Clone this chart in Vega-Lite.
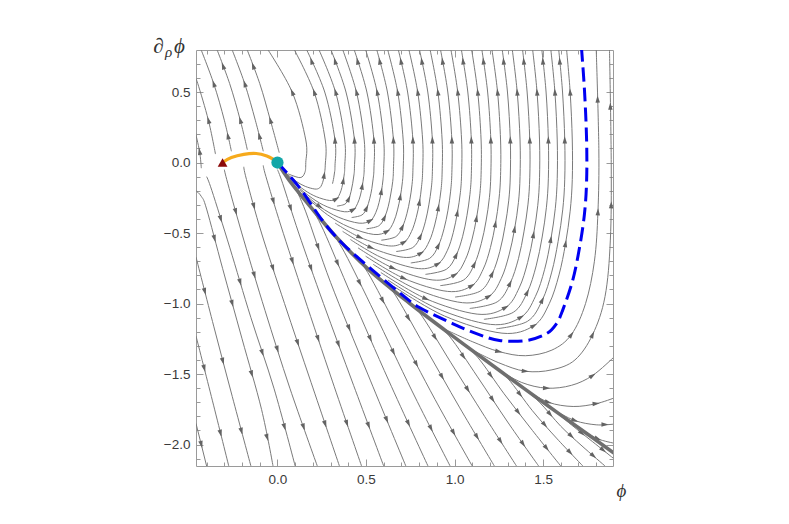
{
"$schema":"https://vega.github.io/schema/vega-lite/v6.json",
"width":417,"height":416,
"autosize":{"type":"none"},
"padding":{"left":196,"top":50,"right":176,"bottom":58},
"background":"white",
"config":{"view":{"stroke":"#9a9a9a","strokeWidth":1},"axis":{"grid":false,"domain":false,"tickColor":"#9a9a9a","tickWidth":1,"labelColor":"#3a3a3a","labelFont":"Liberation Sans","labelFontSize":13.5,"titleFont":"Liberation Serif","titleFontStyle":"italic","titleFontWeight":"normal","titleColor":"#333333","titleAngle":0,"titleAlign":"center","titleBaseline":"middle"}},
"datasets":{
"streams":[
{"g":"FL1","o":1,"x":-0.46,"y":-1.85},{"g":"FL1","o":2,"x":-0.40,"y":-2.152},
{"g":"FL2","o":1,"x":-0.46,"y":-1.23},{"g":"FL2","o":2,"x":-0.367,"y":-1.69},{"g":"FL2","o":3,"x":-0.275,"y":-2.152},
{"g":"FL3","o":1,"x":-0.46,"y":-0.67},{"g":"FL3","o":2,"x":-0.36,"y":-1.16},{"g":"FL3","o":3,"x":-0.255,"y":-1.66},{"g":"FL3","o":4,"x":-0.15,"y":-2.152},
{"g":"FL4","o":1,"x":-0.46,"y":-0.2},{"g":"FL4","o":2,"x":-0.43,"y":-0.24},{"g":"FL4","o":3,"x":-0.40,"y":-0.33},{"g":"FL4","o":4,"x":-0.31,"y":-0.75},{"g":"FL4","o":5,"x":-0.2,"y":-1.25},{"g":"FL4","o":6,"x":-0.09,"y":-1.75},{"g":"FL4","o":7,"x":-0.025,"y":-2.152},
{"g":"FB1","o":1,"x":-0.40,"y":-0.10},{"g":"FB1","o":2,"x":-0.37,"y":-0.2},{"g":"FB1","o":3,"x":-0.27,"y":-0.6},{"g":"FB1","o":4,"x":-0.15,"y":-1.1},{"g":"FB1","o":5,"x":-0.02,"y":-1.6},{"g":"FB1","o":6,"x":0.10,"y":-2.152},
{"g":"FB2","o":1,"x":-0.30,"y":-0.05},{"g":"FB2","o":2,"x":-0.28,"y":-0.15},{"g":"FB2","o":3,"x":-0.19,"y":-0.55},{"g":"FB2","o":4,"x":-0.07,"y":-1.05},{"g":"FB2","o":5,"x":0.07,"y":-1.6},{"g":"FB2","o":6,"x":0.225,"y":-2.152},
{"g":"FB3","o":1,"x":-0.19,"y":-0.03},{"g":"FB3","o":2,"x":-0.175,"y":-0.12},{"g":"FB3","o":3,"x":-0.09,"y":-0.5},{"g":"FB3","o":4,"x":0.04,"y":-1.0},{"g":"FB3","o":5,"x":0.19,"y":-1.56},{"g":"FB3","o":6,"x":0.35,"y":-2.152},
{"g":"FB4","o":1,"x":-0.08,"y":-0.02},{"g":"FB4","o":2,"x":-0.065,"y":-0.10},{"g":"FB4","o":3,"x":0.02,"y":-0.45},{"g":"FB4","o":4,"x":0.15,"y":-0.95},{"g":"FB4","o":5,"x":0.31,"y":-1.55},{"g":"FB4","o":6,"x":0.475,"y":-2.152},
{"g":"FB5","o":1,"x":0.0,"y":-0.05},{"g":"FB5","o":2,"x":0.03,"y":-0.15},{"g":"FB5","o":3,"x":0.12,"y":-0.5},{"g":"FB5","o":4,"x":0.26,"y":-1.0},{"g":"FB5","o":5,"x":0.43,"y":-1.58},{"g":"FB5","o":6,"x":0.60,"y":-2.152},
{"g":"FF1","o":1,"x":0.10,"y":-0.18},{"g":"FF1","o":2,"x":0.16,"y":-0.35},{"g":"FF1","o":3,"x":0.30,"y":-0.85},{"g":"FF1","o":4,"x":0.51,"y":-1.5},{"g":"FF1","o":5,"x":0.725,"y":-2.152},
{"g":"FF2","o":1,"x":0.19,"y":-0.318},{"g":"FF2","o":2,"x":0.26,"y":-0.48},{"g":"FF2","o":3,"x":0.42,"y":-0.95},{"g":"FF2","o":4,"x":0.63,"y":-1.55},{"g":"FF2","o":5,"x":0.85,"y":-2.152},
{"g":"FF3","o":1,"x":0.30,"y":-0.483},{"g":"FF3","o":2,"x":0.38,"y":-0.64},{"g":"FF3","o":3,"x":0.55,"y":-1.07},{"g":"FF3","o":4,"x":0.76,"y":-1.62},{"g":"FF3","o":5,"x":0.975,"y":-2.152},
{"g":"FF4","o":1,"x":0.42,"y":-0.639},{"g":"FF4","o":2,"x":0.51,"y":-0.78},{"g":"FF4","o":3,"x":0.68,"y":-1.18},{"g":"FF4","o":4,"x":0.89,"y":-1.68},{"g":"FF4","o":5,"x":1.10,"y":-2.152},
{"g":"FF5","o":1,"x":0.55,"y":-0.795},{"g":"FF5","o":2,"x":0.65,"y":-0.91},{"g":"FF5","o":3,"x":0.83,"y":-1.3},{"g":"FF5","o":4,"x":1.03,"y":-1.74},{"g":"FF5","o":5,"x":1.225,"y":-2.152},
{"g":"FF6","o":1,"x":0.70,"y":-0.95},{"g":"FF6","o":2,"x":0.80,"y":-1.06},{"g":"FF6","o":3,"x":0.98,"y":-1.42},{"g":"FF6","o":4,"x":1.17,"y":-1.8},{"g":"FF6","o":5,"x":1.35,"y":-2.152},
{"g":"FF7","o":1,"x":0.86,"y":-1.107},{"g":"FF7","o":2,"x":0.97,"y":-1.23},{"g":"FF7","o":3,"x":1.13,"y":-1.52},{"g":"FF7","o":4,"x":1.30,"y":-1.84},{"g":"FF7","o":5,"x":1.475,"y":-2.152},
{"g":"FF8","o":1,"x":1.02,"y":-1.258},{"g":"FF8","o":2,"x":1.13,"y":-1.38},{"g":"FF8","o":3,"x":1.28,"y":-1.64},{"g":"FF8","o":4,"x":1.44,"y":-1.9},{"g":"FF8","o":5,"x":1.60,"y":-2.152},
{"g":"FF9","o":1,"x":1.19,"y":-1.416},{"g":"FF9","o":2,"x":1.30,"y":-1.53},{"g":"FF9","o":3,"x":1.44,"y":-1.76},{"g":"FF9","o":4,"x":1.58,"y":-1.96},{"g":"FF9","o":5,"x":1.725,"y":-2.152},
{"g":"FF10","o":1,"x":1.37,"y":-1.581},{"g":"FF10","o":2,"x":1.48,"y":-1.70},{"g":"FF10","o":3,"x":1.60,"y":-1.87},{"g":"FF10","o":4,"x":1.72,"y":-2.01},{"g":"FF10","o":5,"x":1.85,"y":-2.152},
{"g":"FF11","o":1,"x":1.55,"y":-1.745},{"g":"FF11","o":2,"x":1.66,"y":-1.86},{"g":"FF11","o":3,"x":1.78,"y":-1.98},{"g":"FF11","o":4,"x":1.90,"y":-2.10},
{"g":"T1","o":1,"x":0.01,"y":0.07},{"g":"T1","o":2,"x":-0.04,"y":0.3},{"g":"T1","o":3,"x":-0.10,"y":0.56},{"g":"T1","o":4,"x":-0.175,"y":0.812},
{"g":"T2","o":1,"x":-0.08,"y":0.08},{"g":"T2","o":2,"x":-0.125,"y":0.3},{"g":"T2","o":3,"x":-0.185,"y":0.56},{"g":"T2","o":4,"x":-0.26,"y":0.812},
{"g":"T3","o":1,"x":-0.17,"y":0.09},{"g":"T3","o":2,"x":-0.21,"y":0.3},{"g":"T3","o":3,"x":-0.27,"y":0.56},{"g":"T3","o":4,"x":-0.345,"y":0.812},
{"g":"T4","o":1,"x":-0.26,"y":0.08},{"g":"T4","o":2,"x":-0.30,"y":0.3},{"g":"T4","o":3,"x":-0.36,"y":0.56},{"g":"T4","o":4,"x":-0.435,"y":0.812},
{"g":"T5","o":1,"x":-0.35,"y":0.06},{"g":"T5","o":2,"x":-0.39,"y":0.3},{"g":"T5","o":3,"x":-0.45,"y":0.56},{"g":"T5","o":4,"x":-0.465,"y":0.6},
{"g":"T6","o":1,"x":-0.43,"y":-0.04},{"g":"T6","o":2,"x":-0.44,"y":0.08},{"g":"T6","o":3,"x":-0.465,"y":0.22},
{"g":"J016","o":1,"x":0.06,"y":-0.08},{"g":"J016","o":2,"x":0.128,"y":-0.107},{"g":"J016","o":3,"x":0.155,"y":-0.07},{"g":"J016","o":4,"x":0.16,"y":0.0},{"g":"J016","o":5,"x":0.16,"y":0.16},{"g":"J016","o":6,"x":0.083,"y":0.5},{"g":"J016","o":7,"x":-0.06,"y":0.812},
{"g":"J027","o":1,"x":0.058,"y":-0.085},{"g":"J027","o":2,"x":0.109,"y":-0.136},{"g":"J027","o":3,"x":0.157,"y":-0.169},{"g":"J027","o":4,"x":0.211,"y":-0.188},{"g":"J027","o":5,"x":0.238,"y":-0.18},{"g":"J027","o":6,"x":0.251,"y":-0.155},{"g":"J027","o":7,"x":0.259,"y":-0.124},{"g":"J027","o":8,"x":0.264,"y":-0.089},{"g":"J027","o":9,"x":0.27,"y":-0.019},{"g":"J027","o":10,"x":0.27,"y":0.16},{"g":"J027","o":11,"x":0.207,"y":0.5},{"g":"J027","o":12,"x":0.09,"y":0.812},
{"g":"J038","o":1,"x":0.027,"y":-0.037},{"g":"J038","o":2,"x":0.081,"y":-0.122},{"g":"J038","o":3,"x":0.152,"y":-0.195},{"g":"J038","o":4,"x":0.219,"y":-0.242},{"g":"J038","o":5,"x":0.294,"y":-0.269},{"g":"J038","o":6,"x":0.333,"y":-0.257},{"g":"J038","o":7,"x":0.352,"y":-0.222},{"g":"J038","o":8,"x":0.364,"y":-0.177},{"g":"J038","o":9,"x":0.372,"y":-0.128},{"g":"J038","o":10,"x":0.378,"y":-0.077},{"g":"J038","o":11,"x":0.38,"y":-0.027},{"g":"J038","o":12,"x":0.38,"y":0.16},{"g":"J038","o":13,"x":0.328,"y":0.5},{"g":"J038","o":14,"x":0.23,"y":0.812},
{"g":"J049","o":1,"x":0.035,"y":-0.049},{"g":"J049","o":2,"x":0.104,"y":-0.158},{"g":"J049","o":3,"x":0.196,"y":-0.253},{"g":"J049","o":4,"x":0.281,"y":-0.314},{"g":"J049","o":5,"x":0.378,"y":-0.349},{"g":"J049","o":6,"x":0.429,"y":-0.333},{"g":"J049","o":7,"x":0.453,"y":-0.289},{"g":"J049","o":8,"x":0.469,"y":-0.23},{"g":"J049","o":9,"x":0.479,"y":-0.166},{"g":"J049","o":10,"x":0.487,"y":-0.099},{"g":"J049","o":11,"x":0.49,"y":-0.035},{"g":"J049","o":12,"x":0.49,"y":0.16},{"g":"J049","o":13,"x":0.446,"y":0.5},{"g":"J049","o":14,"x":0.365,"y":0.812},
{"g":"J060","o":2,"x":0.127,"y":-0.194},{"g":"J060","o":3,"x":0.239,"y":-0.312},{"g":"J060","o":4,"x":0.343,"y":-0.387},{"g":"J060","o":5,"x":0.461,"y":-0.43},{"g":"J060","o":6,"x":0.525,"y":-0.411},{"g":"J060","o":7,"x":0.555,"y":-0.356},{"g":"J060","o":8,"x":0.574,"y":-0.283},{"g":"J060","o":9,"x":0.587,"y":-0.204},{"g":"J060","o":10,"x":0.596,"y":-0.123},{"g":"J060","o":11,"x":0.60,"y":-0.043},{"g":"J060","o":12,"x":0.60,"y":0.16},{"g":"J060","o":13,"x":0.563,"y":0.5},{"g":"J060","o":14,"x":0.495,"y":0.812},
{"g":"J071","o":2,"x":0.15,"y":-0.231},{"g":"J071","o":3,"x":0.282,"y":-0.37},{"g":"J071","o":4,"x":0.405,"y":-0.458},{"g":"J071","o":5,"x":0.544,"y":-0.51},{"g":"J071","o":6,"x":0.62,"y":-0.487},{"g":"J071","o":7,"x":0.656,"y":-0.422},{"g":"J071","o":8,"x":0.678,"y":-0.336},{"g":"J071","o":9,"x":0.694,"y":-0.242},{"g":"J071","o":10,"x":0.705,"y":-0.145},{"g":"J071","o":11,"x":0.71,"y":-0.051},{"g":"J071","o":12,"x":0.71,"y":0.16},{"g":"J071","o":13,"x":0.679,"y":0.5},{"g":"J071","o":14,"x":0.62,"y":0.812},
{"g":"J082","o":3,"x":0.325,"y":-0.429},{"g":"J082","o":4,"x":0.467,"y":-0.531},{"g":"J082","o":5,"x":0.628,"y":-0.591},{"g":"J082","o":6,"x":0.716,"y":-0.564},{"g":"J082","o":7,"x":0.757,"y":-0.489},{"g":"J082","o":8,"x":0.784,"y":-0.389},{"g":"J082","o":9,"x":0.802,"y":-0.281},{"g":"J082","o":10,"x":0.814,"y":-0.168},{"g":"J082","o":11,"x":0.82,"y":-0.059},{"g":"J082","o":12,"x":0.82,"y":0.16},{"g":"J082","o":13,"x":0.792,"y":0.5},{"g":"J082","o":14,"x":0.74,"y":0.812},
{"g":"J093","o":3,"x":0.368,"y":-0.488},{"g":"J093","o":4,"x":0.529,"y":-0.604},{"g":"J093","o":5,"x":0.711,"y":-0.672},{"g":"J093","o":6,"x":0.811,"y":-0.642},{"g":"J093","o":7,"x":0.858,"y":-0.556},{"g":"J093","o":8,"x":0.888,"y":-0.443},{"g":"J093","o":9,"x":0.909,"y":-0.319},{"g":"J093","o":10,"x":0.924,"y":-0.192},{"g":"J093","o":11,"x":0.93,"y":-0.067},{"g":"J093","o":12,"x":0.93,"y":0.16},{"g":"J093","o":13,"x":0.906,"y":0.5},{"g":"J093","o":14,"x":0.86,"y":0.812},
{"g":"J104","o":3,"x":0.412,"y":-0.546},{"g":"J104","o":4,"x":0.591,"y":-0.676},{"g":"J104","o":5,"x":0.795,"y":-0.752},{"g":"J104","o":6,"x":0.907,"y":-0.718},{"g":"J104","o":7,"x":0.96,"y":-0.622},{"g":"J104","o":8,"x":0.993,"y":-0.496},{"g":"J104","o":9,"x":1.016,"y":-0.357},{"g":"J104","o":10,"x":1.033,"y":-0.214},{"g":"J104","o":11,"x":1.04,"y":-0.075},{"g":"J104","o":12,"x":1.04,"y":0.16},{"g":"J104","o":13,"x":1.018,"y":0.5},{"g":"J104","o":14,"x":0.978,"y":0.812},
{"g":"J115","o":3,"x":0.455,"y":-0.605},{"g":"J115","o":4,"x":0.653,"y":-0.749},{"g":"J115","o":5,"x":0.878,"y":-0.833},{"g":"J115","o":6,"x":1.002,"y":-0.796},{"g":"J115","o":7,"x":1.061,"y":-0.689},{"g":"J115","o":8,"x":1.098,"y":-0.549},{"g":"J115","o":9,"x":1.124,"y":-0.396},{"g":"J115","o":10,"x":1.142,"y":-0.237},{"g":"J115","o":11,"x":1.15,"y":-0.083},{"g":"J115","o":12,"x":1.15,"y":0.16},{"g":"J115","o":13,"x":1.131,"y":0.5},{"g":"J115","o":14,"x":1.095,"y":0.812},
{"g":"J126","o":3,"x":0.498,"y":-0.664},{"g":"J126","o":4,"x":0.715,"y":-0.822},{"g":"J126","o":5,"x":0.961,"y":-0.914},{"g":"J126","o":6,"x":1.098,"y":-0.873},{"g":"J126","o":7,"x":1.162,"y":-0.756},{"g":"J126","o":8,"x":1.203,"y":-0.602},{"g":"J126","o":9,"x":1.231,"y":-0.434},{"g":"J126","o":10,"x":1.251,"y":-0.26},{"g":"J126","o":11,"x":1.26,"y":-0.091},{"g":"J126","o":12,"x":1.26,"y":0.16},{"g":"J126","o":13,"x":1.243,"y":0.5},{"g":"J126","o":14,"x":1.21,"y":0.812},
{"g":"J137","o":3,"x":0.541,"y":-0.722},{"g":"J137","o":4,"x":0.777,"y":-0.894},{"g":"J137","o":5,"x":1.045,"y":-0.994},{"g":"J137","o":6,"x":1.194,"y":-0.949},{"g":"J137","o":7,"x":1.264,"y":-0.822},{"g":"J137","o":8,"x":1.308,"y":-0.655},{"g":"J137","o":9,"x":1.339,"y":-0.472},{"g":"J137","o":10,"x":1.361,"y":-0.283},{"g":"J137","o":11,"x":1.37,"y":-0.099},{"g":"J137","o":12,"x":1.37,"y":0.16},{"g":"J137","o":13,"x":1.354,"y":0.5},{"g":"J137","o":14,"x":1.325,"y":0.812},
{"g":"J148","o":3,"x":0.584,"y":-0.78},{"g":"J148","o":4,"x":0.839,"y":-0.966},{"g":"J148","o":5,"x":1.128,"y":-1.075},{"g":"J148","o":6,"x":1.289,"y":-1.027},{"g":"J148","o":7,"x":1.365,"y":-0.889},{"g":"J148","o":8,"x":1.413,"y":-0.708},{"g":"J148","o":9,"x":1.446,"y":-0.511},{"g":"J148","o":10,"x":1.47,"y":-0.306},{"g":"J148","o":11,"x":1.48,"y":-0.108},{"g":"J148","o":12,"x":1.48,"y":0.16},{"g":"J148","o":13,"x":1.466,"y":0.5},{"g":"J148","o":14,"x":1.44,"y":0.812},
{"g":"J158","o":3,"x":0.624,"y":-0.833},{"g":"J158","o":4,"x":0.896,"y":-1.032},{"g":"J158","o":5,"x":1.204,"y":-1.148},{"g":"J158","o":6,"x":1.376,"y":-1.096},{"g":"J158","o":7,"x":1.457,"y":-0.949},{"g":"J158","o":8,"x":1.509,"y":-0.757},{"g":"J158","o":9,"x":1.544,"y":-0.545},{"g":"J158","o":10,"x":1.569,"y":-0.327},{"g":"J158","o":11,"x":1.58,"y":-0.115},{"g":"J158","o":12,"x":1.58,"y":0.16},{"g":"J158","o":13,"x":1.567,"y":0.5},{"g":"J158","o":14,"x":1.543,"y":0.812},
{"g":"J166","o":3,"x":0.657,"y":-0.878},{"g":"J166","o":4,"x":0.943,"y":-1.088},{"g":"J166","o":5,"x":1.268,"y":-1.21},{"g":"J166","o":6,"x":1.449,"y":-1.156},{"g":"J166","o":7,"x":1.535,"y":-1.001},{"g":"J166","o":8,"x":1.59,"y":-0.797},{"g":"J166","o":9,"x":1.627,"y":-0.575},{"g":"J166","o":10,"x":1.653,"y":-0.345},{"g":"J166","o":11,"x":1.665,"y":-0.121},{"g":"J166","o":12,"x":1.665,"y":0.16},{"g":"J166","o":13,"x":1.653,"y":0.5},{"g":"J166","o":14,"x":1.632,"y":0.812},
{"g":"K033","o":1,"x":0.311,"y":-0.15},{"g":"K033","o":2,"x":0.318,"y":-0.108},{"g":"K033","o":3,"x":0.323,"y":-0.065},{"g":"K033","o":4,"x":0.325,"y":-0.023},{"g":"K033","o":5,"x":0.325,"y":0.16},{"g":"K033","o":6,"x":0.267,"y":0.5},{"g":"K033","o":7,"x":0.16,"y":0.812},
{"g":"K044","o":1,"x":0.336,"y":-0.309},{"g":"K044","o":2,"x":0.381,"y":-0.295},{"g":"K044","o":3,"x":0.403,"y":-0.256},{"g":"K044","o":4,"x":0.416,"y":-0.204},{"g":"K044","o":5,"x":0.425,"y":-0.147},{"g":"K044","o":6,"x":0.432,"y":-0.088},{"g":"K044","o":7,"x":0.435,"y":-0.031},{"g":"K044","o":8,"x":0.435,"y":0.16},{"g":"K044","o":9,"x":0.387,"y":0.5},{"g":"K044","o":10,"x":0.298,"y":0.812},
{"g":"K055","o":1,"x":0.419,"y":-0.39},{"g":"K055","o":2,"x":0.477,"y":-0.372},{"g":"K055","o":3,"x":0.504,"y":-0.323},{"g":"K055","o":4,"x":0.521,"y":-0.257},{"g":"K055","o":5,"x":0.533,"y":-0.185},{"g":"K055","o":6,"x":0.541,"y":-0.111},{"g":"K055","o":7,"x":0.545,"y":-0.039},{"g":"K055","o":8,"x":0.545,"y":0.16},{"g":"K055","o":9,"x":0.505,"y":0.5},{"g":"K055","o":10,"x":0.43,"y":0.812},
{"g":"K066","o":1,"x":0.503,"y":-0.47},{"g":"K066","o":2,"x":0.572,"y":-0.449},{"g":"K066","o":3,"x":0.605,"y":-0.389},{"g":"K066","o":4,"x":0.626,"y":-0.31},{"g":"K066","o":5,"x":0.64,"y":-0.223},{"g":"K066","o":6,"x":0.651,"y":-0.134},{"g":"K066","o":7,"x":0.655,"y":-0.047},{"g":"K066","o":8,"x":0.655,"y":0.16},{"g":"K066","o":9,"x":0.621,"y":0.5},{"g":"K066","o":10,"x":0.558,"y":0.812},
{"g":"K077","o":1,"x":0.586,"y":-0.551},{"g":"K077","o":2,"x":0.668,"y":-0.526},{"g":"K077","o":3,"x":0.706,"y":-0.456},{"g":"K077","o":4,"x":0.731,"y":-0.363},{"g":"K077","o":5,"x":0.748,"y":-0.262},{"g":"K077","o":6,"x":0.76,"y":-0.157},{"g":"K077","o":7,"x":0.765,"y":-0.055},{"g":"K077","o":8,"x":0.765,"y":0.16},{"g":"K077","o":9,"x":0.735,"y":0.5},{"g":"K077","o":10,"x":0.68,"y":0.812},
{"g":"K088","o":1,"x":0.67,"y":-0.631},{"g":"K088","o":2,"x":0.764,"y":-0.603},{"g":"K088","o":3,"x":0.808,"y":-0.522},{"g":"K088","o":4,"x":0.836,"y":-0.416},{"g":"K088","o":5,"x":0.855,"y":-0.3},{"g":"K088","o":6,"x":0.869,"y":-0.18},{"g":"K088","o":7,"x":0.875,"y":-0.063},{"g":"K088","o":8,"x":0.875,"y":0.16},{"g":"K088","o":9,"x":0.849,"y":0.5},{"g":"K088","o":10,"x":0.80,"y":0.812},
{"g":"K099","o":1,"x":0.753,"y":-0.712},{"g":"K099","o":2,"x":0.859,"y":-0.68},{"g":"K099","o":3,"x":0.909,"y":-0.589},{"g":"K099","o":4,"x":0.941,"y":-0.469},{"g":"K099","o":5,"x":0.963,"y":-0.338},{"g":"K099","o":6,"x":0.978,"y":-0.203},{"g":"K099","o":7,"x":0.985,"y":-0.071},{"g":"K099","o":8,"x":0.985,"y":0.16},{"g":"K099","o":9,"x":0.962,"y":0.5},{"g":"K099","o":10,"x":0.919,"y":0.812},
{"g":"K110","o":1,"x":0.836,"y":-0.793},{"g":"K110","o":2,"x":0.954,"y":-0.757},{"g":"K110","o":3,"x":1.01,"y":-0.656},{"g":"K110","o":4,"x":1.046,"y":-0.523},{"g":"K110","o":5,"x":1.07,"y":-0.377},{"g":"K110","o":6,"x":1.087,"y":-0.226},{"g":"K110","o":7,"x":1.095,"y":-0.079},{"g":"K110","o":8,"x":1.095,"y":0.16},{"g":"K110","o":9,"x":1.075,"y":0.5},{"g":"K110","o":10,"x":1.037,"y":0.812},
{"g":"K121","o":1,"x":0.92,"y":-0.873},{"g":"K121","o":2,"x":1.05,"y":-0.834},{"g":"K121","o":3,"x":1.112,"y":-0.722},{"g":"K121","o":4,"x":1.151,"y":-0.575},{"g":"K121","o":5,"x":1.178,"y":-0.415},{"g":"K121","o":6,"x":1.197,"y":-0.249},{"g":"K121","o":7,"x":1.205,"y":-0.087},{"g":"K121","o":8,"x":1.205,"y":0.16},{"g":"K121","o":9,"x":1.187,"y":0.5},{"g":"K121","o":10,"x":1.153,"y":0.812},
{"g":"K132","o":1,"x":1.003,"y":-0.954},{"g":"K132","o":2,"x":1.146,"y":-0.911},{"g":"K132","o":3,"x":1.213,"y":-0.789},{"g":"K132","o":4,"x":1.256,"y":-0.629},{"g":"K132","o":5,"x":1.285,"y":-0.453},{"g":"K132","o":6,"x":1.306,"y":-0.272},{"g":"K132","o":7,"x":1.315,"y":-0.095},{"g":"K132","o":8,"x":1.315,"y":0.16},{"g":"K132","o":9,"x":1.299,"y":0.5},{"g":"K132","o":10,"x":1.268,"y":0.812},
{"g":"K143","o":1,"x":1.086,"y":-1.035},{"g":"K143","o":2,"x":1.241,"y":-0.988},{"g":"K143","o":3,"x":1.314,"y":-0.856},{"g":"K143","o":4,"x":1.361,"y":-0.682},{"g":"K143","o":5,"x":1.392,"y":-0.492},{"g":"K143","o":6,"x":1.415,"y":-0.295},{"g":"K143","o":7,"x":1.425,"y":-0.104},{"g":"K143","o":8,"x":1.425,"y":0.16},{"g":"K143","o":9,"x":1.41,"y":0.5},{"g":"K143","o":10,"x":1.383,"y":0.812},
{"g":"K153","o":1,"x":1.166,"y":-1.112},{"g":"K153","o":2,"x":1.332,"y":-1.062},{"g":"K153","o":3,"x":1.411,"y":-0.92},{"g":"K153","o":4,"x":1.461,"y":-0.733},{"g":"K153","o":5,"x":1.495,"y":-0.528},{"g":"K153","o":6,"x":1.519,"y":-0.317},{"g":"K153","o":7,"x":1.53,"y":-0.111},{"g":"K153","o":8,"x":1.53,"y":0.16},{"g":"K153","o":9,"x":1.517,"y":0.5},{"g":"K153","o":10,"x":1.492,"y":0.812},
{"g":"K162","o":1,"x":1.236,"y":-1.179},{"g":"K162","o":2,"x":1.412,"y":-1.126},{"g":"K162","o":3,"x":1.496,"y":-0.975},{"g":"K162","o":4,"x":1.549,"y":-0.777},{"g":"K162","o":5,"x":1.585,"y":-0.56},{"g":"K162","o":6,"x":1.611,"y":-0.336},{"g":"K162","o":7,"x":1.6225,"y":-0.118},{"g":"K162","o":8,"x":1.6225,"y":0.16},{"g":"K162","o":9,"x":1.61,"y":0.5},{"g":"K162","o":10,"x":1.5875,"y":0.812},
{"g":"OJ1","o":1,"x":0.95,"y":-1.185},{"g":"OJ1","o":2,"x":1.1,"y":-1.27},{"g":"OJ1","o":3,"x":1.25,"y":-1.34},{"g":"OJ1","o":4,"x":1.40,"y":-1.37},{"g":"OJ1","o":5,"x":1.55,"y":-1.33},{"g":"OJ1","o":6,"x":1.66,"y":-1.22},{"g":"OJ1","o":7,"x":1.74,"y":-1.0},{"g":"OJ1","o":8,"x":1.79,"y":-0.7},{"g":"OJ1","o":9,"x":1.81,"y":-0.35},{"g":"OJ1","o":10,"x":1.815,"y":0.1},{"g":"OJ1","o":11,"x":1.80,"y":0.812},
{"g":"OJ2","o":1,"x":1.1,"y":-1.33},{"g":"OJ2","o":2,"x":1.25,"y":-1.42},{"g":"OJ2","o":3,"x":1.4,"y":-1.48},{"g":"OJ2","o":4,"x":1.55,"y":-1.47},{"g":"OJ2","o":5,"x":1.68,"y":-1.40},{"g":"OJ2","o":6,"x":1.78,"y":-1.22},{"g":"OJ2","o":7,"x":1.85,"y":-0.95},{"g":"OJ2","o":8,"x":1.88,"y":-0.55},{"g":"OJ2","o":9,"x":1.885,"y":0.0},{"g":"OJ2","o":10,"x":1.875,"y":0.812},
{"g":"OE3","o":1,"x":1.25,"y":-1.471},{"g":"OE3","o":2,"x":1.38,"y":-1.56},{"g":"OE3","o":3,"x":1.52,"y":-1.60},{"g":"OE3","o":4,"x":1.66,"y":-1.58},{"g":"OE3","o":5,"x":1.78,"y":-1.51},{"g":"OE3","o":6,"x":1.90,"y":-1.38},
{"g":"OE4","o":1,"x":1.40,"y":-1.61},{"g":"OE4","o":2,"x":1.53,"y":-1.70},{"g":"OE4","o":3,"x":1.67,"y":-1.73},{"g":"OE4","o":4,"x":1.80,"y":-1.71},{"g":"OE4","o":5,"x":1.90,"y":-1.67},
{"g":"OE5","o":1,"x":1.56,"y":-1.754},{"g":"OE5","o":2,"x":1.68,"y":-1.83},{"g":"OE5","o":3,"x":1.80,"y":-1.86},{"g":"OE5","o":4,"x":1.90,"y":-1.855},
{"g":"OE6","o":1,"x":1.72,"y":-1.898},{"g":"OE6","o":2,"x":1.81,"y":-1.96},{"g":"OE6","o":3,"x":1.90,"y":-1.99}
],
"arrows":[
{"x":-0.43,"y":-2.0,"dir":166},
{"x":-0.413,"y":-1.46,"dir":165},{"x":-0.321,"y":-1.921,"dir":165},
{"x":-0.41,"y":-0.915,"dir":165},{"x":-0.308,"y":-1.41,"dir":165},{"x":-0.203,"y":-1.906,"dir":165},
{"x":-0.355,"y":-0.54,"dir":164},{"x":-0.255,"y":-1.0,"dir":164},{"x":-0.145,"y":-1.5,"dir":164},{"x":-0.058,"y":-1.951,"dir":164},
{"x":-0.32,"y":-0.4,"dir":163},{"x":-0.21,"y":-0.85,"dir":163},{"x":-0.085,"y":-1.35,"dir":162},{"x":0.04,"y":-1.876,"dir":164},
{"x":-0.235,"y":-0.35,"dir":164},{"x":-0.13,"y":-0.8,"dir":163},{"x":0.0,"y":-1.325,"dir":162},{"x":0.148,"y":-1.876,"dir":161},
{"x":-0.1325,"y":-0.31,"dir":164},{"x":-0.025,"y":-0.75,"dir":162},{"x":0.115,"y":-1.28,"dir":161},{"x":0.27,"y":-1.856,"dir":161},
{"x":-0.0225,"y":-0.275,"dir":163},{"x":0.085,"y":-0.7,"dir":162},{"x":0.23,"y":-1.25,"dir":161},{"x":0.3925,"y":-1.851,"dir":161},
{"x":0.075,"y":-0.325,"dir":162},{"x":0.19,"y":-0.75,"dir":161},{"x":0.345,"y":-1.29,"dir":160},{"x":0.515,"y":-1.866,"dir":159},
{"x":0.23,"y":-0.6,"dir":160},{"x":0.405,"y":-1.175,"dir":158},{"x":0.6175,"y":-1.826,"dir":157},
{"x":0.34,"y":-0.715,"dir":157},{"x":0.525,"y":-1.25,"dir":156},{"x":0.74,"y":-1.851,"dir":155},
{"x":0.465,"y":-0.855,"dir":154},{"x":0.655,"y":-1.345,"dir":154},{"x":0.8675,"y":-1.886,"dir":153},
{"x":0.595,"y":-0.98,"dir":152},{"x":0.785,"y":-1.43,"dir":152},{"x":0.995,"y":-1.916,"dir":151},
{"x":0.74,"y":-1.105,"dir":150},{"x":0.93,"y":-1.52,"dir":150},{"x":1.1275,"y":-1.946,"dir":149},
{"x":0.89,"y":-1.24,"dir":149},{"x":1.075,"y":-1.61,"dir":148},{"x":1.26,"y":-1.976,"dir":147},
{"x":1.05,"y":-1.375,"dir":145},{"x":1.215,"y":-1.68,"dir":146},{"x":1.3875,"y":-1.996,"dir":145},
{"x":1.205,"y":-1.51,"dir":144},{"x":1.36,"y":-1.77,"dir":142},{"x":1.52,"y":-2.026,"dir":141},
{"x":1.37,"y":-1.645,"dir":142},{"x":1.51,"y":-1.86,"dir":139},{"x":1.6525,"y":-2.056,"dir":137},
{"x":1.54,"y":-1.785,"dir":138},{"x":1.66,"y":-1.94,"dir":133},{"x":1.785,"y":-2.081,"dir":131},
{"x":1.72,"y":-1.92,"dir":131},{"x":1.84,"y":-2.04,"dir":130},
{"x":-0.04,"y":0.3,"dir":344},{"x":-0.1375,"y":0.686,"dir":340},
{"x":-0.1025,"y":0.19,"dir":346},{"x":-0.185,"y":0.56,"dir":342},
{"x":-0.21,"y":0.3,"dir":344},{"x":-0.3075,"y":0.686,"dir":340},
{"x":-0.28,"y":0.19,"dir":347},{"x":-0.36,"y":0.56,"dir":342},
{"x":-0.39,"y":0.3,"dir":344},{"x":-0.44,"y":0.08,"dir":350},
{"x":0.083,"y":0.5,"dir":337},
{"x":0.264,"y":-0.089,"dir":10},{"x":0.207,"y":0.5,"dir":341},
{"x":0.333,"y":-0.257,"dir":60},{"x":0.372,"y":-0.128,"dir":10},{"x":0.328,"y":0.5,"dir":344},
{"x":0.429,"y":-0.333,"dir":60},{"x":0.479,"y":-0.166,"dir":10},{"x":0.446,"y":0.5,"dir":346},
{"x":0.239,"y":-0.312,"dir":125},{"x":0.525,"y":-0.411,"dir":60},{"x":0.587,"y":-0.204,"dir":10},{"x":0.563,"y":0.5,"dir":348},
{"x":0.62,"y":-0.487,"dir":60},{"x":0.694,"y":-0.242,"dir":10},{"x":0.679,"y":0.5,"dir":350},
{"x":0.467,"y":-0.531,"dir":113},{"x":0.716,"y":-0.564,"dir":60},{"x":0.802,"y":-0.281,"dir":10},{"x":0.792,"y":0.5,"dir":351},
{"x":0.529,"y":-0.604,"dir":113},{"x":0.811,"y":-0.642,"dir":60},{"x":0.909,"y":-0.319,"dir":10},{"x":0.906,"y":0.5,"dir":352},
{"x":0.907,"y":-0.718,"dir":60},{"x":1.016,"y":-0.357,"dir":10},{"x":1.018,"y":0.5,"dir":353},
{"x":0.653,"y":-0.749,"dir":113},{"x":1.002,"y":-0.796,"dir":60},{"x":1.124,"y":-0.396,"dir":10},{"x":1.131,"y":0.5,"dir":354},
{"x":0.715,"y":-0.822,"dir":113},{"x":1.098,"y":-0.873,"dir":60},{"x":1.231,"y":-0.434,"dir":10},{"x":1.243,"y":0.5,"dir":354},
{"x":1.194,"y":-0.949,"dir":60},{"x":1.339,"y":-0.472,"dir":10},{"x":1.354,"y":0.5,"dir":355},
{"x":0.839,"y":-0.966,"dir":113},{"x":1.289,"y":-1.027,"dir":60},{"x":1.446,"y":-0.511,"dir":10},{"x":1.466,"y":0.5,"dir":355},
{"x":1.376,"y":-1.096,"dir":60},{"x":1.544,"y":-0.545,"dir":10},{"x":1.567,"y":0.5,"dir":356},
{"x":1.449,"y":-1.156,"dir":60},{"x":1.627,"y":-0.575,"dir":10},{"x":1.653,"y":0.5,"dir":356},
{"x":0.325,"y":0.16,"dir":357},{"x":0.192,"y":0.72,"dir":342},
{"x":0.403,"y":-0.256,"dir":26},{"x":0.435,"y":0.16,"dir":358},{"x":0.325,"y":0.72,"dir":345},
{"x":0.504,"y":-0.323,"dir":26},{"x":0.545,"y":0.16,"dir":358},{"x":0.452,"y":0.72,"dir":347},
{"x":0.605,"y":-0.389,"dir":26},{"x":0.655,"y":0.16,"dir":359},{"x":0.577,"y":0.72,"dir":349},
{"x":0.706,"y":-0.456,"dir":26},{"x":0.765,"y":0.16,"dir":359},{"x":0.697,"y":0.72,"dir":350},
{"x":0.808,"y":-0.522,"dir":26},{"x":0.875,"y":0.16,"dir":359},{"x":0.815,"y":0.72,"dir":351},
{"x":0.909,"y":-0.589,"dir":26},{"x":0.985,"y":0.16,"dir":359},{"x":0.932,"y":0.72,"dir":352},
{"x":1.01,"y":-0.656,"dir":26},{"x":1.095,"y":0.16,"dir":359},{"x":1.048,"y":0.72,"dir":353},
{"x":1.112,"y":-0.722,"dir":26},{"x":1.205,"y":0.16,"dir":359},{"x":1.163,"y":0.72,"dir":354},
{"x":1.213,"y":-0.789,"dir":26},{"x":1.315,"y":0.16,"dir":359},{"x":1.277,"y":0.72,"dir":355},
{"x":1.314,"y":-0.856,"dir":26},{"x":1.425,"y":0.16,"dir":359},{"x":1.391,"y":0.72,"dir":355},
{"x":1.411,"y":-0.92,"dir":26},{"x":1.53,"y":0.16,"dir":359},{"x":1.499,"y":0.72,"dir":356},
{"x":1.496,"y":-0.975,"dir":26},{"x":1.6225,"y":0.16,"dir":359},{"x":1.594,"y":0.72,"dir":356},
{"x":1.25,"y":-1.34,"dir":102},{"x":1.66,"y":-1.22,"dir":36},{"x":1.81,"y":-0.35,"dir":3},{"x":1.808,"y":0.45,"dir":358},
{"x":1.4,"y":-1.48,"dir":96},{"x":1.78,"y":-1.22,"dir":25},{"x":1.885,"y":-0.3,"dir":2},{"x":1.88,"y":0.4,"dir":359},
{"x":1.52,"y":-1.60,"dir":93},{"x":1.78,"y":-1.51,"dir":56},
{"x":1.53,"y":-1.70,"dir":105},{"x":1.80,"y":-1.71,"dir":85},
{"x":1.68,"y":-1.83,"dir":110},{"x":1.85,"y":-1.857,"dir":90},
{"x":1.81,"y":-1.96,"dir":112}
],
"sep":[
{"o":1,"x":0.0,"y":0.0},{"o":2,"x":0.068,"y":-0.128},{"o":3,"x":0.181,"y":-0.305},{"o":4,"x":0.333,"y":-0.53},{"o":5,"x":0.52,"y":-0.765},{"o":6,"x":0.746,"y":-0.998},{"o":7,"x":1.0,"y":-1.24},{"o":8,"x":1.254,"y":-1.475},{"o":9,"x":1.5,"y":-1.70},{"o":10,"x":1.75,"y":-1.925},{"o":11,"x":1.90,"y":-2.06}
],
"blue":[
{"o":1,"x":0.0,"y":0.0},{"o":2,"x":0.124,"y":-0.177},{"o":3,"x":0.254,"y":-0.411},{"o":4,"x":0.367,"y":-0.574},{"o":5,"x":0.52,"y":-0.745},{"o":6,"x":0.689,"y":-0.922},{"o":7,"x":0.802,"y":-1.028},{"o":8,"x":0.989,"y":-1.142},{"o":9,"x":1.124,"y":-1.213},{"o":10,"x":1.254,"y":-1.262},{"o":11,"x":1.407,"y":-1.262},{"o":12,"x":1.52,"y":-1.213},{"o":13,"x":1.576,"y":-1.142},{"o":14,"x":1.61,"y":-1.05},{"o":15,"x":1.667,"y":-0.837},{"o":16,"x":1.706,"y":-0.603},{"o":17,"x":1.734,"y":-0.362},{"o":18,"x":1.746,"y":-0.128},{"o":19,"x":1.746,"y":0.156},{"o":20,"x":1.734,"y":0.511},{"o":21,"x":1.716,"y":0.83}
],
"orange":[
{"o":1,"x":-0.31,"y":0.0},{"o":2,"x":-0.26,"y":0.035},{"o":3,"x":-0.19,"y":0.058},{"o":4,"x":-0.12,"y":0.064},{"o":5,"x":-0.06,"y":0.047},{"o":6,"x":-0.02,"y":0.02},{"o":7,"x":0.0,"y":0.0}
],
"start":[{"x":-0.31,"y":0.0}],
"vac":[{"x":0.0,"y":0.0}]
},
"layer":[
{"data":{"name":"streams"},
 "mark":{"type":"line","interpolate":"cardinal","stroke":"#7a7a7a","strokeWidth":1,"clip":true},
 "encoding":{
  "x":{"field":"x","type":"quantitative","scale":{"domain":[-0.46,1.895],"nice":false,"zero":false},
       "axis":{"orient":"bottom","values":[0,0.5,1,1.5],"format":".1f","tickSize":-7,"labelPadding":13,"title":"ϕ","titleX":425,"titleY":24,"titleFontSize":19}},
  "y":{"field":"y","type":"quantitative","scale":{"domain":[-2.152,0.798],"nice":false,"zero":false},
       "axis":{"orient":"left","values":[-2,-1.5,-1,-0.5,0,0.5],"format":".1f","tickSize":-7,"labelPadding":13,"title":"∂","titleX":-38,"titleY":-4,"titleFontSize":21}},
  "detail":{"field":"g","type":"nominal"},
  "order":{"field":"o","type":"quantitative"}}},
{"data":{"name":"arrows"},
 "mark":{"type":"point","shape":"M0,-1L0.62,1L-0.62,1Z","filled":true,"color":"#636363","opacity":1,"size":52,"clip":true},
 "encoding":{
  "x":{"field":"x","type":"quantitative","scale":{"domain":[-0.46,1.895],"nice":false,"zero":false},
       "axis":{"orient":"bottom","values":[-0.4,-0.3,-0.2,-0.1,0.1,0.2,0.3,0.4,0.6,0.7,0.8,0.9,1.1,1.2,1.3,1.4,1.6,1.7,1.8],"labels":false,"tickSize":-4,"title":null}},
  "y":{"field":"y","type":"quantitative","scale":{"domain":[-2.152,0.798],"nice":false,"zero":false},
       "axis":{"orient":"left","values":[-2.1,-1.9,-1.8,-1.7,-1.6,-1.4,-1.3,-1.2,-1.1,-0.9,-0.8,-0.7,-0.6,-0.4,-0.3,-0.2,-0.1,0.1,0.2,0.3,0.4,0.6,0.7],"labels":false,"tickSize":-4,"title":"ϕ","titleX":-17,"titleY":-4,"titleFontSize":21}},
  "angle":{"field":"dir","type":"quantitative","scale":null}}},
{"data":{"name":"sep"},
 "mark":{"type":"line","interpolate":"cardinal","stroke":"#6f6f6f","strokeWidth":3.6,"clip":true},
 "encoding":{
  "x":{"field":"x","type":"quantitative","scale":{"domain":[-0.46,1.895],"nice":false,"zero":false},
       "axis":{"orient":"top","values":[0,0.5,1,1.5],"labels":false,"tickSize":-7,"title":null}},
  "y":{"field":"y","type":"quantitative","scale":{"domain":[-2.152,0.798],"nice":false,"zero":false},
       "axis":{"orient":"right","values":[-2,-1.5,-1,-0.5,0,0.5],"labels":false,"tickSize":-7,"title":"ρ","titleX":-445,"titleY":1,"titleFontSize":15}},
  "order":{"field":"o","type":"quantitative"}}},
{"data":{"name":"blue"},
 "mark":{"type":"line","interpolate":"cardinal","stroke":"#0000f2","strokeWidth":3,"strokeDash":[14,6],"clip":true},
 "encoding":{
  "x":{"field":"x","type":"quantitative","scale":{"domain":[-0.46,1.895],"nice":false,"zero":false},
       "axis":{"orient":"top","values":[-0.4,-0.3,-0.2,-0.1,0.1,0.2,0.3,0.4,0.6,0.7,0.8,0.9,1.1,1.2,1.3,1.4,1.6,1.7,1.8],"labels":false,"tickSize":-4,"title":null}},
  "y":{"field":"y","type":"quantitative","scale":{"domain":[-2.152,0.798],"nice":false,"zero":false},
       "axis":{"orient":"right","values":[-2.1,-1.9,-1.8,-1.7,-1.6,-1.4,-1.3,-1.2,-1.1,-0.9,-0.8,-0.7,-0.6,-0.4,-0.3,-0.2,-0.1,0.1,0.2,0.3,0.4,0.6,0.7],"labels":false,"tickSize":-4,"title":null}},
  "order":{"field":"o","type":"quantitative"}}},
{"data":{"name":"orange"},
 "mark":{"type":"line","interpolate":"cardinal","stroke":"#f6aa1c","strokeWidth":3.2,"clip":true},
 "encoding":{
  "x":{"field":"x","type":"quantitative","axis":null},
  "y":{"field":"y","type":"quantitative","axis":null},
  "order":{"field":"o","type":"quantitative"}}},
{"data":{"name":"start"},
 "mark":{"type":"point","shape":"triangle-up","filled":true,"color":"#8b0a0a","opacity":1,"size":95},
 "encoding":{
  "x":{"field":"x","type":"quantitative","axis":null},
  "y":{"field":"y","type":"quantitative","axis":null}}},
{"data":{"name":"vac"},
 "mark":{"type":"point","shape":"circle","filled":true,"color":"#13a6a8","opacity":1,"size":150},
 "encoding":{
  "x":{"field":"x","type":"quantitative","axis":null},
  "y":{"field":"y","type":"quantitative","axis":null}}}
],
"resolve":{"axis":{"x":"independent","y":"independent"}}
}
